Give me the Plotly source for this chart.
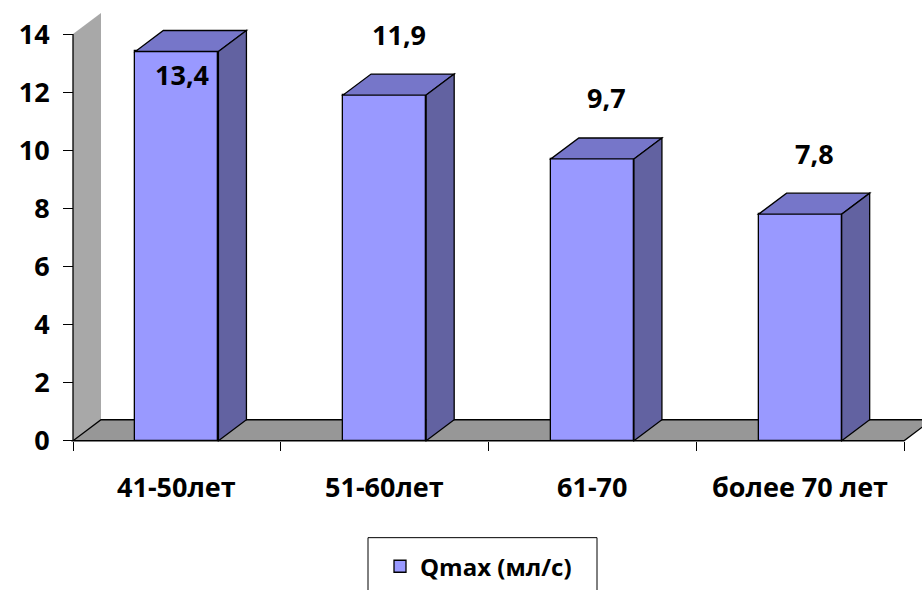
import plotly.graph_objects as go

# --- data ---
categories = ["41-50лет", "51-60лет", "61-70", "более 70 лет"]
qmax_values = [13.4, 11.9, 9.7, 7.8]
value_labels = ["13,4", "11,9", "9,7", "7,8"]
y_ticks = [0, 2, 4, 6, 8, 10, 12, 14]
series_name = "Qmax (мл/с)"

# --- geometry / layout constants (pixels) ---
W, H = 922, 590
AXIS_X_PX = 73          # position of the value axis
ZERO_Y_PX = 441         # position of value 0
PX_PER_CAT = 207.75
PX_PER_UNIT = 29.07
PLOT_LEFT_PX = 52
PLOT_TOP_PX = 441 - 15 * 29.07
PLOT_BOTTOM_PX = 441 + 0.25 * 29.07

DEPTH_DX = 28 / PX_PER_CAT     # 3D depth offset in category units
DEPTH_DY = 21 / PX_PER_UNIT    # 3D depth offset in value units
BAR_HALF = 0.2
Y_MAX_WALL = 14

FRONT = "#9999FF"
TOP = "#7676C9"
SIDE = "#6262A1"
WALL = "#A8A8A8"
FLOOR = "#979797"
EDGE = "black"
EW = 1.3
FONT = "Open Sans"
FS = 27

plot_w = W - PLOT_LEFT_PX
plot_h = PLOT_BOTTOM_PX - PLOT_TOP_PX
x_min = -(AXIS_X_PX - PLOT_LEFT_PX) / PX_PER_CAT
x_max = x_min + plot_w / PX_PER_CAT
y_min = -(PLOT_BOTTOM_PX - ZERO_Y_PX) / PX_PER_UNIT
y_max = (ZERO_Y_PX - PLOT_TOP_PX) / PX_PER_UNIT


def px_to_paper_x(px):
    return (px - PLOT_LEFT_PX) / plot_w


def px_to_paper_y(py):
    return (PLOT_BOTTOM_PX - py) / plot_h


def poly(points):
    return "M " + " L ".join(f"{x},{y}" for x, y in points) + " Z"


n = len(categories)
centers = [i + 0.5 for i in range(n)]

fig = go.Figure()

fig.add_trace(go.Bar(
    x=centers, y=qmax_values, width=2 * BAR_HALF, name=series_name,
    marker=dict(color=FRONT, line=dict(color=EDGE, width=EW)),
    hoverinfo="skip", showlegend=True,
))

shapes = []
# side wall behind the value axis
shapes.append(dict(
    type="path", xref="x", yref="y", layer="below",
    path=poly([(0, 0), (0, Y_MAX_WALL), (DEPTH_DX, Y_MAX_WALL + DEPTH_DY), (DEPTH_DX, DEPTH_DY)]),
    fillcolor=WALL, line=dict(width=0),
))
# floor
shapes.append(dict(
    type="path", xref="x", yref="y", layer="below",
    path=poly([(0, 0), (n, 0), (n + DEPTH_DX, DEPTH_DY), (DEPTH_DX, DEPTH_DY)]),
    fillcolor=FLOOR, line=dict(color=EDGE, width=EW),
))
# value axis line
shapes.append(dict(
    type="line", xref="x", yref="y", x0=0, x1=0, y0=0, y1=Y_MAX_WALL,
    line=dict(color=EDGE, width=EW), layer="above",
))

# top and side faces of each bar
for c, v in zip(centers, qmax_values):
    l, r = c - BAR_HALF, c + BAR_HALF
    shapes.append(dict(
        type="path", xref="x", yref="y", layer="above",
        path=poly([(l, v), (r, v), (r + DEPTH_DX, v + DEPTH_DY), (l + DEPTH_DX, v + DEPTH_DY)]),
        fillcolor=TOP, line=dict(color=EDGE, width=EW),
    ))
    shapes.append(dict(
        type="path", xref="x", yref="y", layer="above",
        path=poly([(r, 0), (r + DEPTH_DX, DEPTH_DY), (r + DEPTH_DX, v + DEPTH_DY), (r, v)]),
        fillcolor=SIDE, line=dict(color=EDGE, width=EW),
    ))

# legend frame
shapes.append(dict(
    type="rect", xref="paper", yref="paper",
    x0=px_to_paper_x(368), x1=px_to_paper_x(597),
    y0=px_to_paper_y(538), y1=px_to_paper_y(600),
    line=dict(color=EDGE, width=1), fillcolor="rgba(0,0,0,0)",
))

annotations = []
# value labels above each bar (inside the bar when there is no room above)
for c, v, t in zip(centers, qmax_values, value_labels):
    above = v + 2.1
    if above > Y_MAX_WALL + 0.4:
        ax, ay = c + 0.027, v - 0.8
    else:
        ax, ay = c + DEPTH_DX / 2, above
    annotations.append(dict(
        x=ax, y=ay, xref="x", yref="y", text=t, showarrow=False,
        font=dict(family=FONT, size=FS, color="black", weight="bold"),
        xanchor="center", yanchor="middle",
    ))
# category labels
for c, cat in zip(centers, categories):
    annotations.append(dict(
        x=c, y=px_to_paper_y(487), xref="x", yref="paper", text=cat, showarrow=False,
        font=dict(family=FONT, size=FS, color="black", weight="bold"),
        xanchor="center", yanchor="middle",
    ))

fig.update_layout(
    width=W, height=H,
    margin=dict(l=PLOT_LEFT_PX, r=0, t=PLOT_TOP_PX, b=H - PLOT_BOTTOM_PX, pad=0),
    paper_bgcolor="white", plot_bgcolor="white",
    shapes=shapes, annotations=annotations,
    showlegend=True,
    legend=dict(
        x=px_to_paper_x(380), y=px_to_paper_y(567), xanchor="left", yanchor="middle",
        bgcolor="rgba(0,0,0,0)", borderwidth=0,
        font=dict(family=FONT, size=24, color="black", weight="bold"),
    ),
    xaxis=dict(
        range=[x_min, x_max], tickvals=list(range(n + 1)), ticks="outside",
        ticklen=9, tickwidth=1, tickcolor="black", showticklabels=False,
        showgrid=False, zeroline=False, showline=False, fixedrange=True,
        anchor="free", position=px_to_paper_y(ZERO_Y_PX), automargin=False,
    ),
    yaxis=dict(
        range=[y_min, y_max], tickvals=y_ticks, ticks="outside",
        ticklen=10, tickwidth=1, tickcolor="black",
        tickfont=dict(family=FONT, size=FS, color="black", weight="bold"),
        ticklabelstandoff=8,
        showgrid=False, zeroline=False, showline=False, fixedrange=True,
        anchor="free", position=px_to_paper_x(AXIS_X_PX), automargin=False,
    ),
    bargap=0,
)

fig.write_html("out.html")
